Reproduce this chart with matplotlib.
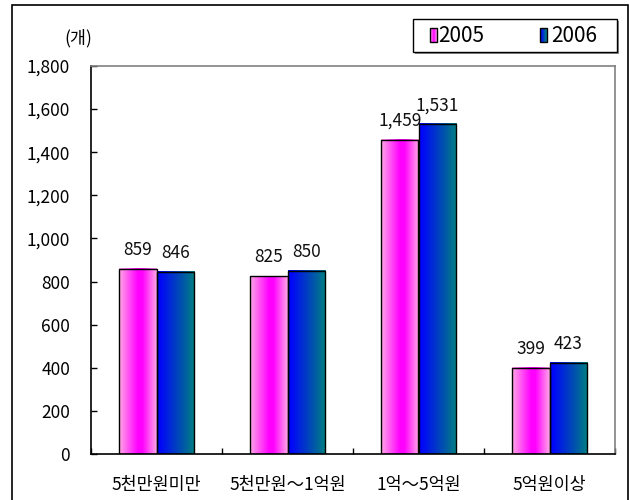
import numpy as np
import matplotlib
matplotlib.use("Agg")
import matplotlib.pyplot as plt
from matplotlib.patches import Rectangle
from matplotlib.colors import LinearSegmentedColormap

plt.rcParams['font.family'] = ['Noto Sans CJK KR', 'DejaVu Sans']

categories = ['5천만원미만', '5천만원～1억원', '1억～5억원', '5억원이상']
series_names = ['2005', '2006']
values_2005 = [859, 825, 1459, 399]
values_2006 = [846, 850, 1531, 423]
yticks = [0, 200, 400, 600, 800, 1000, 1200, 1400, 1600, 1800]
unit_label = '(개)'

cmap_pink = LinearSegmentedColormap.from_list(
    'pink', [(0, '#FFA6E6'), (0.5, '#FF00FF'), (0.62, '#FF00FF'), (1, '#FFA6E6')])
cmap_blue = LinearSegmentedColormap.from_list(
    'blue', [(0, '#0000FF'), (0.15, '#0010F0'), (1, '#008080')])
cmaps = [cmap_pink, cmap_blue]

W, H = 629, 500
fig = plt.figure(figsize=(W / 100, H / 100), dpi=100)
ax = fig.add_axes([91 / W, 1 - 454 / H, (615 - 91) / W, (454 - 66) / H])

grad = np.linspace(0, 1, 64).reshape(1, -1)
x = np.arange(len(categories))
bw = 0.285
for i, (vals, cm) in enumerate(zip([values_2005, values_2006], cmaps)):
    offs = (i - 0.5) * bw
    bars = ax.bar(x + offs, vals, width=bw, facecolor='none', edgecolor='black',
                  linewidth=1.0, zorder=3)
    for b, v in zip(bars, vals):
        x0 = b.get_x()
        ax.imshow(grad, cmap=cm, aspect='auto', extent=[x0, x0 + bw, 0, v],
                  zorder=2, interpolation='bilinear')
        ax.text(x0 + bw / 2, v + 45, f'{v:,}', ha='center', va='bottom',
                fontsize=12.5, color='#111111')

ax.set_xlim(-0.5, len(categories) - 0.5)
ax.set_ylim(0, 1800)
ax.set_yticks(yticks)
ax.set_yticklabels([f'{t:,}' for t in yticks], fontsize=12.5)
ax.set_xticks(np.arange(len(categories) + 1) - 0.5, minor=False)
ax.set_xticklabels([''] * (len(categories) + 1))
ax.set_xticks(x, minor=True)
ax.set_xticklabels(categories, minor=True, fontsize=12.5)
ax.tick_params(axis='x', which='minor', length=0, pad=16)
ax.tick_params(axis='both', which='major', direction='in', length=4, width=1, color='black')
ax.tick_params(axis='y', pad=15)
for s in ['left', 'bottom']:
    ax.spines[s].set_color('black')
    ax.spines[s].set_linewidth(1.2)
for s in ['top', 'right']:
    ax.spines[s].set_color('#808080')
    ax.spines[s].set_linewidth(1.2)

fig.text(78 / W, 1 - 38 / H, unit_label, ha='center', va='center', fontsize=12.5)

# manual legend in figure pixel coordinates
def fx(px):
    return px / W

def fy(py):
    return 1 - py / H

fig.patches.append(Rectangle((fx(415), fy(54)), fx(619) - fx(415), fy(21) - fy(54),
                             transform=fig.transFigure, facecolor='#909090',
                             edgecolor='none', zorder=4))
fig.patches.append(Rectangle((fx(413), fy(52)), fx(617) - fx(413), fy(19) - fy(52),
                             transform=fig.transFigure, facecolor='white',
                             edgecolor='black', linewidth=1.0, zorder=5))
leg_patch_x = [430, 540]
leg_text_x = [438, 551]
for name, cm, px, tx in zip(series_names, cmaps, leg_patch_x, leg_text_x):
    n = 8
    pw = 7.0
    for k in range(n):
        fig.patches.append(Rectangle((fx(px + k * pw / n), fy(42)), fx(pw / n) + 0.0002,
                                     fy(28) - fy(42), transform=fig.transFigure,
                                     facecolor=cm((k + 0.5) / n), edgecolor='none', zorder=6))
    fig.patches.append(Rectangle((fx(px), fy(42)), fx(pw), fy(28) - fy(42),
                                 transform=fig.transFigure, facecolor='none',
                                 edgecolor='black', linewidth=1.0, zorder=7))
    fig.text(fx(tx), fy(35.5), name, ha='left', va='center', fontsize=15, zorder=8)

fig.patches.append(Rectangle((12 / W, -0.01), (628 - 12) / W, 1.01 - 5 / H,
                             transform=fig.transFigure, facecolor='none',
                             edgecolor='black', linewidth=1.2))

fig.savefig('out.png', dpi=100)
